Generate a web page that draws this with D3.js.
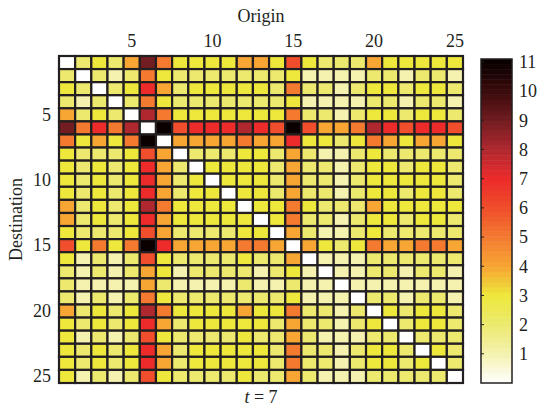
<!DOCTYPE html>
<html>
<head>
<meta charset="utf-8">
<script src="https://cdn.jsdelivr.net/npm/d3@7"></script>
<style>
  body { margin: 0; background: #fff; }
  text { font-family: "Times New Roman", "Liberation Serif", serif; fill: #231f20; }
</style>
</head>
<body>
<div id="chart"></div>
<script>
// flows between 25 zones at t = 7 (row = destination, column = origin)
const zones = d3.range(1, 26);
const tickValues = [5, 10, 15, 20, 25];
const colorbarTicks = d3.range(1, 12);
const matrix = [
  [0,2,3,2,4,9,5,3,3,3,3,4,4,3,6,3,2,2,2,4,3,3,3,3,3],
  [2,0,2,1,2,5,3,2,2,2,2,2,2,2,3,1,1,1,1,2,2,1,2,2,1],
  [3,2,0,2,3,7,4,2,3,3,3,3,3,2,5,2,2,1,2,3,3,2,3,3,2],
  [2,1,2,0,2,5,3,2,2,2,2,2,2,2,3,1,1,1,1,2,2,1,2,2,1],
  [4,2,3,2,0,8,5,3,3,3,3,3,3,3,5,2,2,1,2,3,3,2,3,3,2],
  [9,5,7,5,8,0,11,6,7,7,7,8,7,6,11,6,4,4,5,8,7,6,7,7,6],
  [5,3,4,3,5,11,0,4,4,4,4,5,4,4,7,3,3,2,3,5,4,3,4,4,3],
  [3,2,2,2,3,6,4,0,2,2,2,3,3,2,4,2,1,1,2,3,2,2,2,2,2],
  [3,2,3,2,3,7,4,2,0,3,3,3,3,2,4,2,2,1,2,3,3,2,3,3,2],
  [3,2,3,2,3,7,4,2,3,0,3,3,3,2,4,2,2,1,2,3,3,3,3,3,2],
  [3,2,3,2,3,7,4,2,3,3,0,3,3,2,4,2,2,1,2,3,3,2,3,3,2],
  [4,2,3,2,3,8,5,3,3,3,3,0,3,3,5,3,2,2,2,4,3,3,3,3,3],
  [4,2,3,2,3,7,4,3,3,3,3,3,0,3,5,2,2,1,2,3,3,2,3,3,2],
  [3,2,2,2,3,6,4,2,2,2,2,3,3,0,4,2,1,1,2,3,2,2,2,2,2],
  [6,3,5,3,5,11,7,4,4,4,4,5,5,4,0,4,3,2,3,5,4,4,5,5,4],
  [3,1,2,1,2,6,3,2,2,2,2,3,2,2,4,0,1,1,1,2,2,2,2,2,2],
  [2,1,2,1,2,4,3,1,2,2,2,2,1,2,3,1,0,1,1,2,2,1,2,2,1],
  [2,1,1,1,1,4,2,1,1,1,1,2,1,1,2,1,1,0,1,1,1,1,1,1,1],
  [2,1,2,1,2,5,3,2,2,2,2,2,2,2,3,1,1,1,0,2,2,1,2,2,1],
  [4,2,3,2,3,8,5,3,3,3,3,4,3,3,5,2,2,1,2,0,3,2,3,3,2],
  [3,2,3,2,3,7,4,2,3,3,3,3,3,2,4,2,2,1,2,3,0,2,3,3,2],
  [3,1,2,1,2,6,3,2,2,2,2,3,2,2,4,2,1,1,1,2,2,0,2,2,2],
  [3,2,3,2,3,7,4,2,3,3,3,3,3,2,5,2,2,1,2,3,3,2,0,3,2],
  [3,2,3,2,3,7,4,2,3,3,3,3,3,2,5,2,2,1,2,3,3,2,3,0,2],
  [3,1,2,1,2,6,3,2,2,2,2,3,2,2,4,2,1,1,1,2,2,2,2,2,0]
];
const colorLevels = d3.range(0, 12);
const colorStops = ["#ffffff","#f5f2b0","#ece96e","#eee83c","#f7a533","#f47a30",
                    "#f04e2c","#ec2b2a","#b0282f","#721d21","#3a0a0c","#0a0000"];
const colorMax = 11.1;

const width = 541, height = 410;
const margin = { left: 59, top: 56, right: 78, bottom: 27 };
const gridW = 404, gridH = 327;
const fontSize = "18px";

const svg = d3.select("#chart").append("svg")
  .attr("width", width)
  .attr("height", height);

const x = d3.scaleBand().domain(zones).range([margin.left, margin.left + gridW]);
const y = d3.scaleBand().domain(zones).range([margin.top, margin.top + gridH]);
const color = d3.scaleLinear().domain(colorLevels).range(colorStops).clamp(true);

const cells = [];
matrix.forEach((row, i) => row.forEach((v, j) => cells.push({ dest: zones[i], orig: zones[j], v })));

svg.append("rect")
  .attr("x", margin.left - 0.5).attr("y", margin.top - 0.5)
  .attr("width", gridW + 1).attr("height", gridH + 1)
  .attr("fill", "none").attr("stroke", "#8a8a8a").attr("stroke-width", 1);

svg.append("g").selectAll("rect")
  .data(cells)
  .join("rect")
  .attr("x", d => x(d.orig))
  .attr("y", d => y(d.dest))
  .attr("width", x.bandwidth())
  .attr("height", y.bandwidth())
  .attr("fill", d => color(d.v))
  .attr("stroke", "#231f20")
  .attr("stroke-width", 2.2);

// axes
const topAxis = svg.append("g")
  .attr("transform", `translate(0,${margin.top})`)
  .call(d3.axisTop(x).tickValues(tickValues).tickSize(0).tickPadding(9));
const leftAxis = svg.append("g")
  .attr("transform", `translate(${margin.left},0)`)
  .call(d3.axisLeft(y).tickValues(tickValues).tickSize(0).tickPadding(8));
[topAxis, leftAxis].forEach(g => {
  g.select(".domain").remove();
  g.selectAll("text").style("font-size", fontSize).attr("fill", "#231f20");
});

svg.append("text")
  .attr("x", margin.left + gridW / 2).attr("y", 22)
  .attr("text-anchor", "middle").style("font-size", fontSize)
  .text("Origin");

svg.append("text")
  .attr("transform", `translate(22,${margin.top + gridH / 2}) rotate(-90)`)
  .attr("text-anchor", "middle").style("font-size", fontSize)
  .text("Destination");

const tLabel = svg.append("text")
  .attr("x", margin.left + gridW / 2).attr("y", 403)
  .attr("text-anchor", "middle").style("font-size", fontSize);
tLabel.append("tspan").style("font-style", "italic").text("t");
tLabel.append("tspan").text(" = 7");

// colorbar
const cb = { x: 481, y: 59, w: 31, h: 324 };
const cbScale = d3.scaleLinear().domain([0, colorMax]).range([cb.y + cb.h, cb.y]);
const nBands = 64;
const bands = d3.range(nBands).map(k => ({
  lo: colorMax * k / nBands,
  hi: colorMax * (k + 1) / nBands
}));
svg.append("g").selectAll("rect")
  .data(bands)
  .join("rect")
  .attr("x", cb.x)
  .attr("y", d => cbScale(d.hi))
  .attr("width", cb.w)
  .attr("height", d => cbScale(d.lo) - cbScale(d.hi) + 0.5)
  .attr("fill", d => color((d.lo + d.hi) / 2));
svg.append("rect")
  .attr("x", cb.x).attr("y", cb.y).attr("width", cb.w).attr("height", cb.h)
  .attr("fill", "none").attr("stroke", "#231f20").attr("stroke-width", 1.5);

const cbAxis = svg.append("g")
  .attr("transform", `translate(${cb.x + cb.w},0)`)
  .call(d3.axisRight(cbScale).tickValues(colorbarTicks).tickSize(0).tickPadding(7));
cbAxis.select(".domain").remove();
cbAxis.selectAll("text").style("font-size", fontSize).attr("fill", "#231f20");

svg.append("g").selectAll("line")
  .data(colorbarTicks)
  .join("line")
  .attr("x1", cb.x).attr("x2", cb.x + 3)
  .attr("y1", d => cbScale(d)).attr("y2", d => cbScale(d))
  .attr("stroke", "#231f20").attr("stroke-width", 1);
</script>
</body>
</html>
